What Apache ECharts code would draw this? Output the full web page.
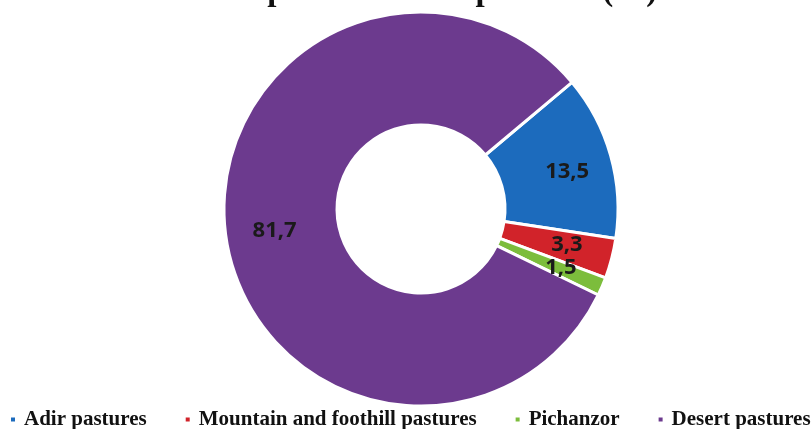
<!DOCTYPE html>
<html>
<head>
<meta charset="utf-8">
<script src="https://cdn.jsdelivr.net/npm/echarts@6/dist/echarts.min.js"></script>
<style>
html,body{margin:0;padding:0;background:#fff;}
#chart{width:811px;height:429px;}
</style>
</head>
<body>
<div id="chart"></div>
<script>
const titleText = 'The composition of the pastures (%).';
const categories = ['Adir pastures', 'Mountain and foothill pastures', 'Pichanzor', 'Desert pastures'];
const values = [13.5, 3.3, 1.5, 81.7];
const colors = ['#1c6bbd', '#d1232a', '#7cbd3c', '#6c3a8e'];
const labelOffsets = [[8, 2], [7, 0], [8, 2], [-4, 4]];

const chart = echarts.init(document.getElementById('chart'));
chart.setOption({
  animation: false,
  backgroundColor: '#fff',
  graphic: [{
    type: 'text',
    left: 'center',
    top: -25,
    style: {text: titleText, font: 'bold 33px "Liberation Serif"', fill: '#111'}
  }],
  legend: {
    bottom: -6,
    left: 4,
    width: 1200,
    icon: 'rect',
    itemWidth: 6,
    itemHeight: 6,
    itemGap: 37,
    data: categories,
    textStyle: {fontFamily: 'Liberation Serif', fontWeight: 'bold', fontSize: 21, color: '#111', padding: [0, 0, 0, 3]}
  },
  series: [{
    type: 'pie',
    center: [421, 209],
    radius: [84, 197],
    startAngle: 40,
    clockwise: true,
    avoidLabelOverlap: false,
    labelLayout: {hideOverlap: false},
    itemStyle: {borderColor: '#fff', borderWidth: 3},
    label: {
      show: true,
      position: 'inside',
      fontFamily: 'Open Sans',
      fontWeight: 'bold',
      fontSize: 22,
      color: '#1a1a1a',
      formatter: p => String(p.value).replace('.', ',')
    },
    labelLine: {show: false},
    data: categories.map((c, i) => ({
      name: c, value: values[i],
      itemStyle: {color: colors[i]},
      label: {offset: labelOffsets[i]}
    }))
  }]
});
</script>
</body>
</html>
